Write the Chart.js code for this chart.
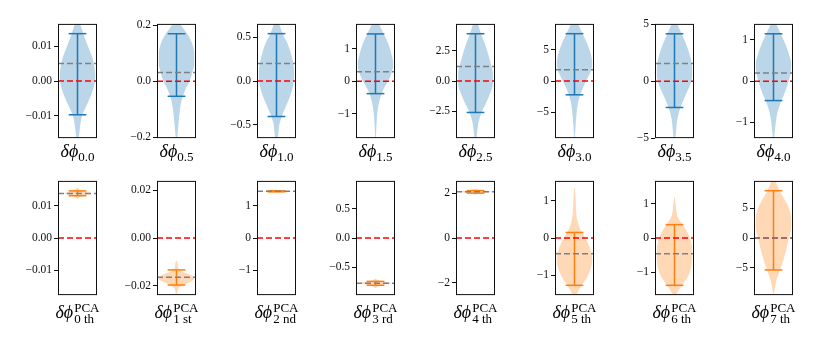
<!DOCTYPE html>
<html lang="en">
<head>
<meta charset="UTF-8">
<title>Violin panels</title>
<script src="https://cdn.jsdelivr.net/npm/chart.js@4.4.0/dist/chart.umd.min.js"></script>
<style>
    body {
        margin: 0;
        background: #fff;
        width: 830px;
        height: 342px;
        position: relative;
        overflow: hidden;
        font-family: 'Liberation Serif', 'DejaVu Serif', serif;
    }
    .panel { position: absolute; }
    .lab {
        position: absolute;
        width: 100px;
        text-align: center;
        font-size: 18px;
        line-height: 18px;
        color: #000;
        white-space: nowrap;
    }
    .lab sub { font-size: 13px; vertical-align: -3.5px; line-height: 0; }
    .lab .ss {
        display: inline-block;
        font-size: 13px;
        line-height: 11px;
        text-align: left;
        vertical-align: -5.5px;
        margin-left: 1px;
    }
</style>
</head>
<body>
<script>
    // ---- data ----
    const topNames = ['0.0', '0.5', '1.0', '1.5', '2.5', '3.0', '3.5', '4.0'];
    const pcaNames = ['0 th', '1 st', '2 nd', '3 rd', '4 th', '5 th', '6 th', '7 th'];

    // y-axis limits per panel (top row, then PCA row)
    const yLimits = [
        [-0.0164, 0.0164], [-0.203, 0.204], [-0.65, 0.65], [-1.76, 1.77],
        [-4.7, 4.7], [-9.1, 9.1], [-5.0, 5.03], [-1.38, 1.39],
        [-0.0177, 0.0177], [-0.0238, 0.0238], [-1.768, 1.768], [-0.978, 0.978],
        [-2.555, 2.555], [-1.542, 1.542], [-1.667, 1.667], [-9.67, 9.67]
    ];

    const tickLabels = [
        ['−0.01', '0.00', '0.01'], ['−0.2', '0.0', '0.2'], ['−0.5', '0.0', '0.5'], ['−1', '0', '1'],
        ['−2.5', '0.0', '2.5'], ['−5', '0', '5'], ['−5', '0', '5'], ['−1', '0', '1'],
        ['−0.01', '0.00', '0.01'], ['−0.02', '0.00', '0.02'], ['−1', '0', '1'], ['−0.5', '0.0', '0.5'],
        ['−2', '0', '2'], ['−1', '0', '1'], ['−1', '0', '1'], ['−5', '0', '5']
    ];

    // violin outline: values (top to bottom) and relative half widths
    const violinY = [
        [0.0164, 0.0133, 0.0096, 0.0068, 0.0039, 0.0011, -0.0017, -0.0045, -0.0073, -0.0101, -0.013, -0.0164],
        [0.204, 0.167, 0.131, 0.096, 0.061, 0.032, 0.002, -0.033, -0.068, -0.115, -0.162, -0.203],
        [0.652, 0.532, 0.419, 0.307, 0.195, 0.082, -0.03, -0.142, -0.255, -0.367, -0.479, -0.592, -0.648],
        [1.77, 1.44, 1.14, 0.83, 0.53, 0.27, 0.02, -0.28, -0.59, -0.89, -1.30, -1.76],
        [4.70, 3.84, 3.03, 2.22, 1.41, 0.59, -0.22, -1.03, -1.84, -2.65, -3.46, -4.27, -4.68],
        [9.11, 7.43, 5.86, 4.29, 2.72, 1.41, 0.10, -1.47, -3.04, -5.13, -7.23, -9.06],
        [5.03, 4.10, 3.24, 2.37, 1.50, 0.64, -0.23, -1.10, -1.97, -2.83, -3.70, -4.57, -5.0],
        [1.39, 1.14, 0.90, 0.66, 0.42, 0.18, -0.06, -0.30, -0.54, -0.78, -1.02, -1.26, -1.38],
        [0.0155, 0.0148, 0.0142, 0.0138, 0.0134, 0.0128, 0.0121],
        [-0.0095, -0.0116, -0.0129, -0.0143, -0.0156, -0.0170, -0.0184, -0.0197, -0.0211, -0.0235],
        [1.49, 1.465, 1.445, 1.425, 1.40],
        [-0.70, -0.73, -0.755, -0.775, -0.795, -0.82, -0.855],
        [2.19, 2.12, 2.07, 2.01, 1.94],
        [1.35, 1.10, 0.84, 0.57, 0.40, 0.22, 0.04, -0.13, -0.40, -0.57, -0.84, -1.10, -1.32, -1.54, -1.7],
        [1.19, 1.0, 0.81, 0.62, 0.43, 0.24, 0.05, -0.24, -0.52, -0.81, -1.10, -1.38, -1.57, -1.67, -1.8],
        [10.2, 9.67, 8.01, 6.35, 4.70, 3.04, 1.38, -0.28, -1.93, -3.59, -5.25, -6.91, -8.29, -9.56]
    ];
    const violinW = [
        [0.15, 0.35, 0.62, 0.83, 0.96, 1.0, 0.92, 0.73, 0.48, 0.25, 0.15, 0.06],
        [0.19, 0.62, 0.9, 1.0, 1.0, 0.9, 0.75, 0.48, 0.29, 0.17, 0.1, 0.04],
        [0.15, 0.36, 0.64, 0.82, 0.95, 1.0, 0.96, 0.82, 0.6, 0.36, 0.18, 0.11, 0.07],
        [0.19, 0.48, 0.73, 0.9, 1.0, 0.92, 0.73, 0.42, 0.23, 0.12, 0.06, 0.02],
        [0.14, 0.32, 0.54, 0.71, 0.86, 0.98, 0.98, 0.82, 0.59, 0.32, 0.16, 0.09, 0.05],
        [0.19, 0.48, 0.73, 0.92, 1.0, 0.9, 0.67, 0.42, 0.23, 0.12, 0.06, 0.02],
        [0.15, 0.42, 0.66, 0.85, 0.98, 1.0, 0.9, 0.66, 0.42, 0.23, 0.13, 0.08, 0.04],
        [0.15, 0.42, 0.67, 0.87, 1.0, 0.96, 0.81, 0.62, 0.38, 0.21, 0.12, 0.06, 0.02],
        [0.03, 0.2, 0.55, 0.75, 0.5, 0.15, 0.03],
        [0.04, 0.08, 0.13, 0.42, 0.85, 1.0, 0.72, 0.34, 0.11, 0.04],
        [0.05, 0.5, 0.85, 0.5, 0.05],
        [0.03, 0.2, 0.6, 0.9, 0.6, 0.2, 0.03],
        [0.03, 0.45, 0.9, 0.45, 0.03],
        [0.02, 0.06, 0.08, 0.12, 0.2, 0.33, 0.55, 0.75, 0.95, 1.0, 0.91, 0.66, 0.34, 0.11, 0.05],
        [0.02, 0.06, 0.1, 0.18, 0.4, 0.64, 0.83, 0.98, 1.0, 0.96, 0.78, 0.42, 0.19, 0.09, 0.04],
        [0.05, 0.11, 0.34, 0.66, 0.91, 1.0, 0.98, 0.85, 0.72, 0.57, 0.38, 0.19, 0.08, 0.02]
    ];

    // whisker [low, high] and median per panel
    const whiskers = [
        [-0.0097, 0.0136], [-0.054, 0.169], [-0.404, 0.539], [-0.386, 1.46],
        [-2.59, 3.89], [-2.2, 7.54], [-2.31, 4.16], [-0.47, 1.15],
        [0.0131, 0.0146], [-0.0196, -0.0133], [1.43, 1.46], [-0.81, -0.743],
        [2.01, 2.12], [-1.278, 0.15], [-1.381, 0.39], [-5.41, 8.01]
    ];
    const medians = [
        0.0050, 0.0305, 0.198, 0.294, 1.19, 1.78, 1.56, 0.20,
        0.0138, -0.01633, 1.444, -0.776, 2.07, -0.423, -0.457, 0.0
    ];

    // ---- layout ----
    const frameLeft0 = 57.5, frameStep = 99.55, frameW = 39, frameH = 116;
    const rowTop = [23, 180];
    const AX = 46, PAD = 8, RPAD = 4;
    const XR = 1.1;

    const framePlugin = {
        id: 'frame',
        afterDraw(chart) {
            const { ctx, chartArea: a } = chart;
            ctx.save();
            ctx.strokeStyle = '#111';
            ctx.lineWidth = 1;
            ctx.strokeRect(a.left + 0.5, a.top + 0.5, a.right - a.left - 1, a.bottom - a.top - 1);
            ctx.restore();
        }
    };

    function hline(y, color, dash, order) {
        return {
            data: [{ x: -XR, y: y }, { x: XR, y: y }],
            borderColor: color, borderWidth: 1.5, borderDash: dash || [],
            pointRadius: 0, fill: false, order: order
        };
    }

    function makePanel(i) {
        const row = i < 8 ? 0 : 1, col = i % 8;
        const mainCol = row ? '#ff7f0e' : '#1f77b4';
        const fillCol = row ? 'rgba(255,127,14,0.3)' : 'rgba(31,119,180,0.3)';
        const left = Math.round(frameLeft0 + col * frameStep) - AX;
        const top = rowTop[row] - PAD;
        const w = AX + frameW + RPAD, h = frameH + 2 * PAD;

        const wrap = document.createElement('div');
        wrap.className = 'panel';
        wrap.style.left = left + 'px';
        wrap.style.top = top + 'px';
        const cv = document.createElement('canvas');
        cv.width = w; cv.height = h;
        cv.style.width = w + 'px'; cv.style.height = h + 'px';
        wrap.appendChild(cv);
        document.body.appendChild(wrap);

        const ys = violinY[i].slice().reverse();
        const ws = violinW[i].slice().reverse();
        const labels = tickLabels[i];
        const tickVals = labels.map(s => Number(s.replace('−', '-')));
        const [lo, hi] = whiskers[i];

        const datasets = [
            hline(medians[i], '#808080', [6, 3], 1),
            hline(0, '#ff0000', [6, 3], 2),
            { data: [{ x: 0, y: lo }, { x: 0, y: hi }], borderColor: mainCol, borderWidth: 1.5, pointRadius: 0, order: 3 },
            { data: [{ x: -0.5, y: hi }, { x: 0.5, y: hi }], borderColor: mainCol, borderWidth: 1.5, pointRadius: 0, order: 3 },
            { data: [{ x: -0.5, y: lo }, { x: 0.5, y: lo }], borderColor: mainCol, borderWidth: 1.5, pointRadius: 0, order: 3 },
            {
                data: ys.map((y, k) => ({ x: ws[k], y: y })),
                borderColor: 'transparent', backgroundColor: fillCol, fill: '+1',
                pointRadius: 0, cubicInterpolationMode: 'monotone', order: 5
            },
            {
                data: ys.map((y, k) => ({ x: -ws[k], y: y })),
                borderColor: 'transparent', fill: false,
                pointRadius: 0, cubicInterpolationMode: 'monotone', order: 6
            }
        ];

        new Chart(cv.getContext('2d'), {
            type: 'line',
            data: { datasets: datasets },
            options: {
                indexAxis: 'y',
                responsive: false,
                animation: false,
                events: [],
                layout: { padding: { top: PAD, bottom: PAD, left: 0, right: RPAD } },
                plugins: { legend: { display: false }, tooltip: { enabled: false } },
                scales: {
                    x: { type: 'linear', min: -XR, max: XR, display: false },
                    y: {
                        type: 'linear',
                        position: 'left',
                        min: yLimits[i][0],
                        max: yLimits[i][1],
                        afterFit: (axis) => { axis.width = AX; },
                        afterBuildTicks: (axis) => { axis.ticks = tickVals.map(v => ({ value: v })); },
                        border: { display: false },
                        grid: { display: true, drawOnChartArea: false, drawTicks: true, tickLength: 4, color: '#111', lineWidth: 1 },
                        ticks: {
                            autoSkip: false,
                            padding: 2,
                            color: '#111',
                            font: { family: 'Liberation Serif', size: 11.5 },
                            callback: (v, idx) => labels[idx]
                        }
                    }
                }
            },
            plugins: [framePlugin]
        });

        const lab = document.createElement('div');
        lab.className = 'lab';
        lab.style.left = (Math.round(frameLeft0 + col * frameStep) + frameW / 2 - 50) + 'px';
        lab.style.top = row ? '302px' : '141.5px';
        lab.innerHTML = row
            ? '<i>δϕ</i><span class="ss">PCA<br>' + pcaNames[col] + '</span>'
            : '<i>δϕ</i><sub>' + topNames[col] + '</sub>';
        document.body.appendChild(lab);
    }

    for (let i = 0; i < 16; i++) makePanel(i);
</script>
</body>
</html>
